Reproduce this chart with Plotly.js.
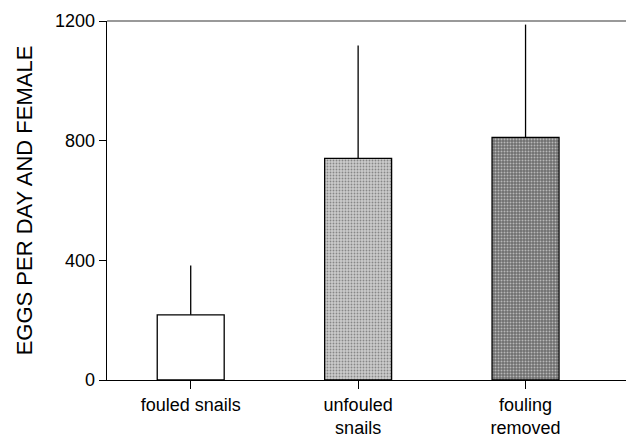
<!DOCTYPE html>
<html>
<head>
<meta charset="utf-8">
<script src="https://cdn.plot.ly/plotly-3.0.1.min.js"></script>
<style>html,body{margin:0;padding:0;background:#fff;}#chart{width:626px;height:442px;}</style>
</head>
<body>
<div id="chart"></div>
<script>
var categories = ["fouled snails", "unfouled<br>snails", "fouling<br>removed"];
var eggs = [218, 741, 811];
var sdUpper = [165, 377, 377];
var yTicks = [0, 400, 800, 1200];

var trace = {
  type: 'bar',
  x: [0, 1, 2],
  y: eggs,
  width: 0.4,
  error_y: {type: 'data', array: sdUpper, arrayminus: [0, 0, 0], symmetric: false, color: '#000', thickness: 1.3, width: 0},
  marker: {
    color: ['#ffffff', '#cbcbcb', '#6e6e6e'],
    line: {color: '#000', width: 1.3},
    pattern: {shape: ['', '.', '.'], fillmode: 'overlay', fgcolor: ['#ffffff', '#b2b2b2', '#2a2a2a'], size: [4, 3, 3], solidity: [0.2, 0.3, 0.35]}
  },
  hoverinfo: 'none'
};

var layout = {
  width: 626, height: 442,
  margin: {l: 107, r: 0, t: 21, b: 62},
  paper_bgcolor: '#fff', plot_bgcolor: '#fff',
  showlegend: false,
  font: {family: 'Liberation Sans, Arial, sans-serif', color: '#000', size: 18},
  xaxis: {
    range: [-0.5, 2.6],
    tickmode: 'array', tickvals: [0, 1, 2], ticktext: categories,
    tickson: 'boundaries',
    ticks: 'outside', ticklen: 8, tickcolor: '#000', tickwidth: 1,
    showline: true, linecolor: '#000', linewidth: 1.3,
    showgrid: false, zeroline: false,
    tickfont: {size: 18}
  },
  yaxis: {
    range: [0, 1200],
    tickmode: 'array', tickvals: yTicks,
    ticks: 'outside', ticklen: 7, tickcolor: '#000', tickwidth: 1,
    showline: true, linecolor: '#000', linewidth: 1.3,
    showgrid: false, zeroline: false,
    tickfont: {size: 18},
    title: {text: 'EGGS PER DAY AND FEMALE', font: {size: 22}, standoff: 16}
  },
  shapes: [{type: 'line', xref: 'paper', yref: 'paper', x0: 0, x1: 1, y0: 1, y1: 1, line: {color: '#777', width: 1.5}}]
};

Plotly.newPlot('chart', [trace], layout, {displayModeBar: false, staticPlot: true});
</script>
</body>
</html>
